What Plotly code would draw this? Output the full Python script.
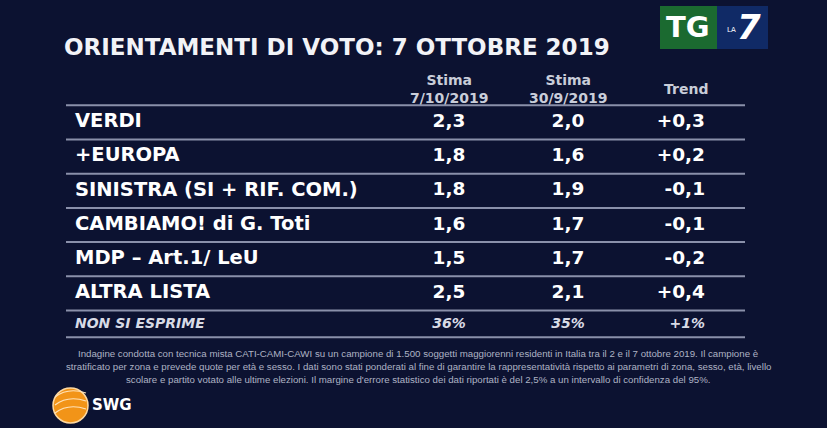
import plotly.graph_objects as go

W, H = 827, 428
BG = "#0c1231"
LINE = "#8a90aa"

title = "ORIENTAMENTI DI VOTO: 7 OTTOBRE 2019"
col_headers = ["Stima<br>7/10/2019", "Stima<br>30/9/2019", "Trend"]
parties = ["VERDI", "+EUROPA", "SINISTRA (SI + RIF. COM.)", "CAMBIAMO! di G. Toti",
           "MDP – Art.1/ LeU", "ALTRA LISTA"]
stima_7_10 = [2.3, 1.8, 1.8, 1.6, 1.5, 2.5]
stima_30_9 = [2.0, 1.6, 1.9, 1.7, 1.7, 2.1]
trend = [0.3, 0.2, -0.1, -0.1, -0.2, 0.4]
nse_label = "NON SI ESPRIME"
nse_7_10 = 36
nse_30_9 = 35
nse_trend = 1
footnote = [
    "Indagine condotta con tecnica mista CATI-CAMI-CAWI su un campione di 1.500 soggetti maggiorenni residenti in Italia tra il 2 e il 7 ottobre 2019. Il campione è",
    "stratificato per zona e prevede quote per età e sesso. I dati sono stati ponderati al fine di garantire la rappresentatività rispetto ai parametri di zona, sesso, età, livello",
    "scolare e partito votato alle ultime elezioni. Il margine d'errore statistico dei dati riportati è del 2,5% a un intervallo di confidenza del 95%.",
]


def fmt(v, sign=False):
    s = f"{v:+.1f}" if sign else f"{v:.1f}"
    return s.replace(".", ",")


def py(p):  # pixel y -> paper
    return 1 - p / H


X_LABEL, X_C1, X_C2, X_TR = 75, 449, 568, 705
ROW_PX0, ROW_STEP = 122.4, 34.2
y_top = -ROW_PX0 / ROW_STEP
y_bot = (H - ROW_PX0) / ROW_STEP
rows = list(range(len(parties)))
nse_row = len(parties) - 0.1

fig = go.Figure()

bold = dict(family="DejaVu Sans", color="white", size=19.5, weight="bold")
bold_num = dict(family="DejaVu Sans", color="white", size=18.5, weight="bold")
fig.add_trace(go.Scatter(x=[X_LABEL] * len(parties), y=rows, text=parties, mode="text",
                         textposition="middle right", textfont=bold, cliponaxis=False,
                         hoverinfo="skip"))
fig.add_trace(go.Scatter(x=[X_C1] * len(parties), y=rows, text=[fmt(v) for v in stima_7_10],
                         mode="text", textposition="middle center", textfont=bold_num,
                         cliponaxis=False, hoverinfo="skip"))
fig.add_trace(go.Scatter(x=[X_C2] * len(parties), y=rows, text=[fmt(v) for v in stima_30_9],
                         mode="text", textposition="middle center", textfont=bold_num,
                         cliponaxis=False, hoverinfo="skip"))
fig.add_trace(go.Scatter(x=[X_TR] * len(parties), y=rows, text=[fmt(v, True) for v in trend],
                         mode="text", textposition="middle left", textfont=bold_num,
                         cliponaxis=False, hoverinfo="skip"))

ital = dict(family="DejaVu Sans", color="#d8dbe6", size=14, style="italic", weight="bold")
fig.add_trace(go.Scatter(x=[X_LABEL], y=[nse_row], text=[nse_label], mode="text",
                         textposition="middle right", textfont=ital, cliponaxis=False,
                         hoverinfo="skip"))
fig.add_trace(go.Scatter(x=[X_C1, X_C2], y=[nse_row, nse_row],
                         text=[f"{nse_7_10}%", f"{nse_30_9}%"], mode="text",
                         textposition="middle center", textfont=ital, cliponaxis=False,
                         hoverinfo="skip"))
fig.add_trace(go.Scatter(x=[X_TR], y=[nse_row], text=[f"{nse_trend:+d}%"], mode="text",
                         textposition="middle left", textfont=ital, cliponaxis=False,
                         hoverinfo="skip"))

shapes = []
for k in range(len(parties) + 1):
    shapes.append(dict(type="line", xref="x", yref="y", x0=66, x1=745, y0=k - 0.5, y1=k - 0.5,
                       line=dict(color=LINE, width=2)))
shapes.append(dict(type="line", xref="x", yref="y", x0=66, x1=745, y0=6.28, y1=6.28,
                   line=dict(color=LINE, width=2)))

# TG La7 logo
shapes.append(dict(type="rect", xref="x", yref="paper", x0=660, x1=717, y0=py(49), y1=py(6),
                   fillcolor="#1b6a30", line=dict(width=0), layer="below"))
shapes.append(dict(type="rect", xref="x", yref="paper", x0=717, x1=768, y0=py(49), y1=py(6),
                   fillcolor="#102a66", line=dict(width=0), layer="below"))
# SWG logo sphere
shapes.append(dict(type="circle", xref="x", yref="paper", x0=53, x1=88, y0=py(423), y1=py(388),
                   fillcolor="#f29418", line=dict(color="#ffd9a0", width=1.5)))
for dy in (-8, 0, 8):
    shapes.append(dict(type="path", xref="x", yref="paper",
                       path=f"M 55,{py(405 + dy)} Q 68,{py(405 + dy - 10)} 86,{py(405 + dy - 4)}",
                       line=dict(color="#ffe2b8", width=1.2)))

annotations = [
    dict(text=title, x=62, y=py(47), xref="x", yref="paper", xanchor="left", yanchor="middle",
         showarrow=False, font=dict(family="DejaVu Sans", size=23, color="#f2f3f7", weight="bold")),
]
for xc, txt in zip([X_C1, X_C2, 686], col_headers):
    annotations.append(dict(text=txt, x=xc, y=py(89), xref="x", yref="paper", xanchor="center",
                            yanchor="middle", showarrow=False,
                            font=dict(family="DejaVu Sans", size=14, color="#c9cdd9", weight="bold")))
for i, line in enumerate(footnote):
    annotations.append(dict(text=line, x=418, y=py(353 + 13 * i), xref="x", yref="paper",
                            xanchor="center", yanchor="middle", showarrow=False,
                            font=dict(family="Liberation Sans", size=9.7, color="#aeb2c4")))
annotations += [
    dict(text="TG", x=688, y=py(27), xref="x", yref="paper", xanchor="center", yanchor="middle",
         showarrow=False, font=dict(family="DejaVu Sans", size=29, color="white", weight="bold")),
    dict(text="LA", x=731, y=py(30), xref="x", yref="paper", xanchor="center", yanchor="middle",
         showarrow=False, font=dict(family="DejaVu Sans", size=7, color="white")),
    dict(text="7", x=749, y=py(27), xref="x", yref="paper", xanchor="center", yanchor="middle",
         showarrow=False, font=dict(family="DejaVu Sans", size=34, color="white", weight="bold",
                                    style="italic")),
    dict(text="SWG", x=90, y=py(405), xref="x", yref="paper", xanchor="left", yanchor="middle",
         showarrow=False, font=dict(family="DejaVu Sans", size=15, color="white", weight="bold")),
]

fig.update_layout(
    width=W, height=H, margin=dict(l=0, r=0, t=0, b=0),
    paper_bgcolor=BG, plot_bgcolor=BG, showlegend=False,
    xaxis=dict(range=[0, W], visible=False, fixedrange=True),
    yaxis=dict(range=[y_bot, y_top], visible=False, fixedrange=True),
    shapes=shapes, annotations=annotations,
)

fig.write_html("out.html", config={"displayModeBar": False},
               post_script="document.body.style.margin='0';document.body.style.background='#0c1231';")
